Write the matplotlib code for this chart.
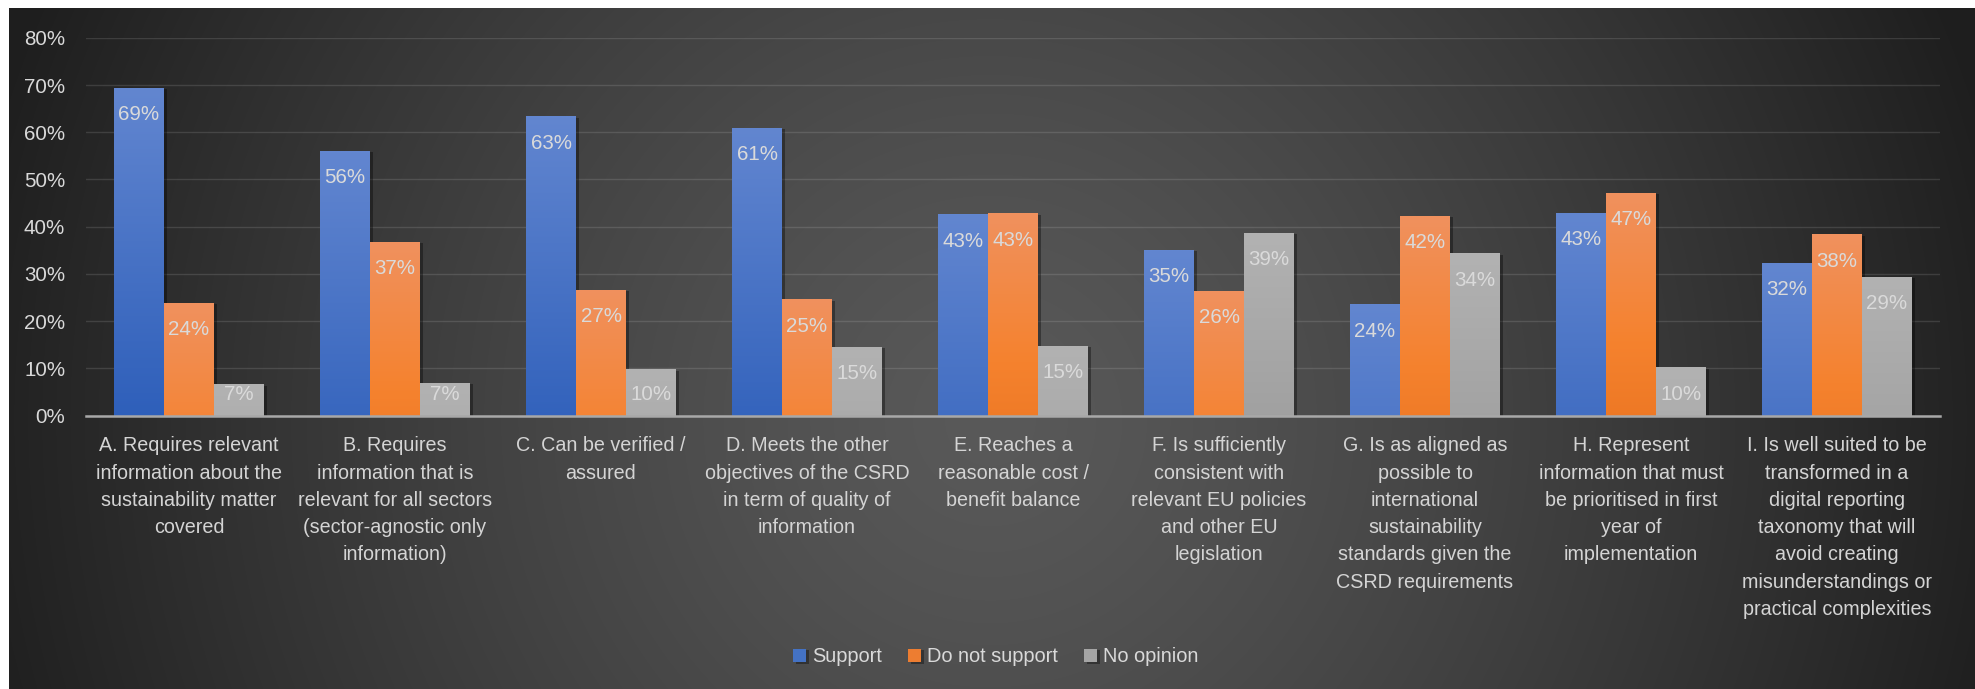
import numpy as np
import matplotlib
matplotlib.use("Agg")
import matplotlib.pyplot as plt
from matplotlib.colors import LinearSegmentedColormap
import matplotlib.patheffects as pe

plt.rcParams['font.family'] = ['Liberation Sans', 'DejaVu Sans']

categories = [
    "A. Requires relevant\ninformation about the\nsustainability matter\ncovered",
    "B. Requires\ninformation that is\nrelevant for all sectors\n(sector-agnostic only\ninformation)",
    "C. Can be verified /\nassured",
    "D. Meets the other\nobjectives of the CSRD\nin term of quality of\ninformation",
    "E. Reaches a\nreasonable cost /\nbenefit balance",
    "F. Is sufficiently\nconsistent with\nrelevant EU policies\nand other EU\nlegislation",
    "G. Is as aligned as\npossible to\ninternational\nsustainability\nstandards given the\nCSRD requirements",
    "H. Represent\ninformation that must\nbe prioritised in first\nyear of\nimplementation",
    "I. Is well suited to be\ntransformed in a\ndigital reporting\ntaxonomy that will\navoid creating\nmisunderstandings or\npractical complexities",
]
series_names = ["Support", "Do not support", "No opinion"]
support = [69.4, 56.1, 63.4, 61.0, 42.6, 35.1, 23.6, 43.0, 32.4]
do_not_support = [23.9, 36.8, 26.7, 24.6, 42.8, 26.4, 42.3, 47.2, 38.4]
no_opinion = [6.6, 7.0, 9.8, 14.6, 14.8, 38.7, 34.4, 10.2, 29.4]
y_ticks = [0, 10, 20, 30, 40, 50, 60, 70, 80]

W, H = 1975, 689
fig = plt.figure(figsize=(W / 100, H / 100), dpi=100)
fig.patch.set_facecolor('white')

# background radial gradient (chart area)
bg = fig.add_axes([9 / W, 0, 1 - 9 / W, 1 - 8 / H])
bg.set_axis_off()
yy, xx = np.mgrid[0:H - 8, 0:W - 9]
cx, cy = 990 - 9, 420 - 8
r = np.sqrt((xx - cx) ** 2 + (yy - cy) ** 2) / 990.0
g = 89 - 55 * np.clip(r, 0, 1.3) ** 1.3
g = np.clip(g, 30, 90) / 255.0
img = np.dstack([g, g, g])
bg.imshow(img, aspect='auto', interpolation='bilinear')

ax = fig.add_axes([86 / W, 1 - 415.6 / H, (1940 - 86) / W, (415.6 - 37.8) / H])
ax.set_facecolor('none')
ax.set_zorder(2)

x = np.arange(len(categories))
bw = 0.2427
grads = [
    ("#6286D0", "#2E5FBA"),
    ("#F0915E", "#E26B17"),
    ("#B2B2B2", "#939393"),
]
mids = ["#4472C4", "#ED7D31", "#A5A5A5"]
data = [support, do_not_support, no_opinion]

containers = []
for i, (vals, name) in enumerate(zip(data, series_names)):
    bars = ax.bar(x + (i - 1) * bw, vals, bw, color=mids[i], label=name, zorder=3,
                  linewidth=0)
    containers.append(bars)
    cmap = LinearSegmentedColormap.from_list("g%d" % i, [grads[i][1], grads[i][0]])
    if i == 1:
        cmap = LinearSegmentedColormap.from_list(
            "g1", [(0, "#E36B18"), (0.55, "#F5822E"), (1, "#F0915E")])
    for rect in bars:
        rect.set_path_effects([pe.SimplePatchShadow(offset=(2, -1), alpha=0.35,
                                                    shadow_rgbFace='black'),
                               pe.Normal()])
        x0, w, h = rect.get_x(), rect.get_width(), rect.get_height()
        grad = np.linspace(1, 0, 256).reshape(-1, 1) * (h / 70.0) + (1 - h / 70.0)
        im = ax.imshow(grad, cmap=cmap, vmin=0, vmax=1, aspect='auto',
                       extent=[x0, x0 + w, 0, h], zorder=3.5, interpolation='bilinear')
        im.set_clip_path(rect)

# data labels
for bars, vals in zip(containers, data):
    for rect, v in zip(bars, vals):
        cxr = rect.get_x() + rect.get_width() / 2
        ax.annotate(f"{v:.0f}%", xy=(cxr, max(v, 10.2)), xytext=(0, -19.4),
                    textcoords='offset points', ha='center', va='center',
                    color='#DADADA', fontsize=14.8, zorder=5)

ax.set_xlim(-0.5, len(categories) - 0.5)
ax.set_ylim(0, 80)
ax.set_yticks(y_ticks)
ax.set_yticklabels([f"{t}%" for t in y_ticks])
ax.set_xticks(x)
ax.set_xticklabels(categories, linespacing=1.55)
ax.tick_params(axis='y', length=0, pad=15, labelsize=14.8, colors='#D9D9D9')
ax.tick_params(axis='x', length=0, pad=15, labelsize=14.2, colors='#D4D4D4')
for lab in ax.get_xticklabels():
    lab.set_verticalalignment('top')
    lab.set_horizontalalignment('center')
for s in ['top', 'right', 'left']:
    ax.spines[s].set_visible(False)
ax.spines['bottom'].set_color('#A8A8A8')
ax.spines['bottom'].set_linewidth(1.8)
ax.spines['bottom'].set_zorder(6)
ax.grid(axis='y', color='white', alpha=0.12, linewidth=1.0, zorder=0)
ax.set_axisbelow(True)

leg = fig.legend(handles=containers, labels=series_names, loc='center',
                 bbox_to_anchor=(996 / W, 1 - 657 / H), ncol=3, frameon=False,
                 fontsize=14.4, handlelength=0.65, handleheight=0.65,
                 handletextpad=0.3, columnspacing=1.3)
for t in leg.get_texts():
    t.set_color('#D9D9D9')

fig.savefig("out.png", dpi=100, facecolor='white')
